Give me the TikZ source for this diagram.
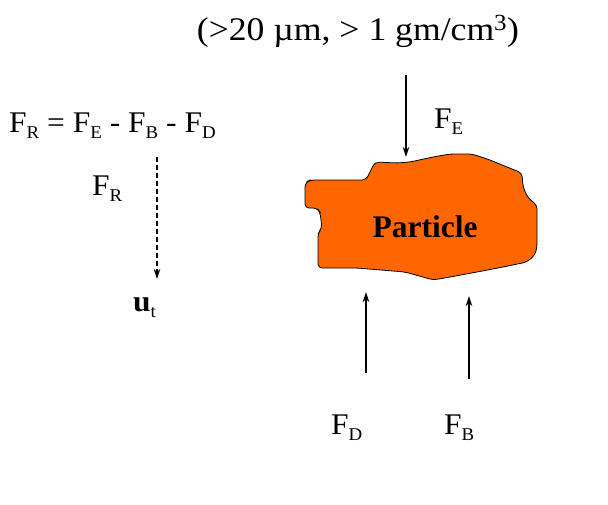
\documentclass[tikz,border=0pt]{standalone}
\usepackage{fontspec}
\setmainfont{Liberation Serif}
\usetikzlibrary{arrows.meta}
\definecolor{blob}{HTML}{FF6600}
\newcommand{\lowsub}[1]{\raisebox{-6pt}{\fontsize{18}{18}\selectfont #1}}
\newcommand{\wide}[2][1.05]{\scalebox{#1}[1]{#2}}
\tikzset{
  force/.style={draw=black, line width=1.3pt, -{Stealth[length=10pt,width=6.5pt]}},
  heavy/.style={force, line width=2.6pt},
  drift/.style={force, dash pattern=on 5pt off 3pt},
  lab/.style={font=\fontsize{30}{32}\selectfont, inner sep=0pt, anchor=base west},
  head/.style={lab, font=\fontsize{33}{36}\selectfont, anchor=base},
}

\begin{document}
\begin{tikzpicture}[x=1pt,y=-1pt]
  \useasboundingbox (0,0) rectangle (608,504);
  % particle outline
  \draw[fill=blob, line width=0.8pt, rounded corners=4pt]
    (305,183) -- (310,180) -- (345,180) -- (366,180) -- (375,162) -- (397,163)
    -- (410,162) -- (433,157) -- (450,154) -- (472,154) -- (490,160) -- (507,167)
    -- (522,173) -- (523,187) -- (528,198) -- (537,205) -- (537,247) -- (535,255)
    -- (527,262) -- (503,267) -- (477,272) -- (450,277) -- (433,280) -- (423,277)
    -- (405,272) -- (357,268) -- (318,268) -- (318,233) -- (322,228) -- (320,212)
    -- (317,208) -- (305,208) -- cycle;
  \node[font=\bfseries\fontsize{31.5}{34}\selectfont, inner sep=0pt, anchor=base] (name) at (425,237) {Particle};
  \node[head] (size) at (358,40) {\wide[1.08]{(>20 µm, > 1 gm/cm\textsuperscript{3})}};
  % forces on the particle
  \coordinate (etop) at (406,75);
  \coordinate (ehit) at (406,157);
  \coordinate (dfoot) at (366,373);
  \coordinate (dhit) at (366,292);
  \coordinate (bfoot) at (469,379);
  \coordinate (bhit) at (469,296);
  \draw[force] (etop) -- (ehit);
  \draw[force] (dfoot) -- (dhit);
  \draw[heavy] (bfoot) -- (bhit);
  \node[lab] (fe) at (434,128) {\wide{F\lowsub{E}}};
  \node[lab] (fd) at (331,434) {\wide{F\lowsub{D}}};
  \node[lab] (fb) at (444,434) {\wide{F\lowsub{B}}};
  % resultant
  \node[lab] (balance) at (9,132) {\wide{F\lowsub{R} = F\lowsub{E} - F\lowsub{B} - F\lowsub{D}}};
  \node[lab] (fr) at (92,195) {\wide{F\lowsub{R}}};
  \node[lab] (ut) at (133,311) {\wide{\textbf{u}\lowsub{t}}};
  \coordinate (rtop) at (157,157);
  \coordinate (rtip) at (157,279);
  \draw[drift] (rtop) -- (rtip);
\end{tikzpicture}
\end{document}
